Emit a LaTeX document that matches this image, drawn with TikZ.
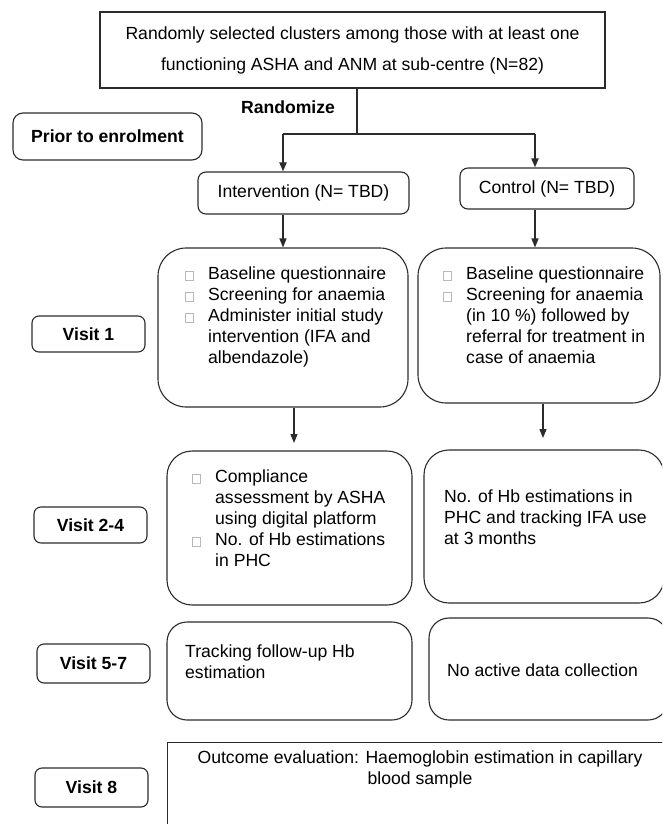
\documentclass[tikz,border=0pt]{standalone}
\usepackage{fontspec}
\setmainfont{Liberation Sans}
\usetikzlibrary{arrows.meta}
\definecolor{ln}{HTML}{2B2B2B}
\definecolor{bulletgray}{HTML}{B8B8B8}
\newcommand{\fsz}{\fontsize{17.6}{21}\selectfont}
\newcommand{\bx}{{\color{bulletgray}\setlength{\fboxsep}{0pt}\setlength{\fboxrule}{0.7pt}\fbox{\rule{0pt}{8pt}\rule{7pt}{0pt}}}}
\newcommand{\itm}{\makebox[23pt][l]{\bx}}
\newcommand{\ind}{\hspace*{23pt}}
\tikzset{
	sqbox/.style={draw=ln, line width=1.1pt, inner sep=0pt},
	rbox/.style={draw=ln, line width=1.1pt, rounded corners=#1, inner sep=0pt},
	rbox/.default=8pt,
	lbl/.style={rbox=7pt, font=\fsz\bfseries},
	txt/.style={align=left, inner sep=0pt, anchor=north west},
	link/.style={draw=ln, line width=1.3pt, -{Triangle[length=9pt,width=7pt]}},
	randline/.style={draw=ln, line width=2pt}
}
\begin{document}
\begin{tikzpicture}[x=1pt, y=-1pt, font=\fsz]
	\useasboundingbox (0,0) rectangle (662,824);
	\clip (0,0) rectangle (662,824);

	\node[sqbox, minimum width=505pt, minimum height=76pt, align=center] (top) at (352.5,50) {Randomly selected clusters among those with at least one\\[10pt] functioning ASHA and ANM at sub-centre (N=82)};
	\node[font=\fsz\bfseries] (rand) at (288,107) {Randomize};
	\node[lbl, minimum width=189pt, minimum height=47pt, rbox=10pt] (prior) at (107.5,136.5) {Prior to enrolment};
	\node[rbox, minimum width=211pt, minimum height=42pt] (int) at (303.5,193) {Intervention (N= TBD)};
	\node[rbox, minimum width=174pt, minimum height=41pt] (ctl) at (547,188.5) {Control (N= TBD)};

	\coordinate (sp) at (357,134);
	\coordinate (sl) at (283,134);
	\coordinate (sr) at (535,134);
	\draw[randline] (top.south -| sp) -- (sp);
	\draw[randline] (sl) -- (sr);
	\draw[randline, -{Triangle[length=9pt,width=7pt]}] (sl) -- (sl |- int.north);
	\draw[randline, -{Triangle[length=9pt,width=7pt]}] (sr) -- (sr |- ctl.north);

	\node[lbl, minimum width=113pt, minimum height=36pt] (v1) at (88.5,334) {Visit 1};
	\node[rbox=28pt, minimum width=250pt, minimum height=159pt] (v1i) at (283,327.5) {};
	\node[rbox=28pt, minimum width=242pt, minimum height=155pt] (v1c) at (539,325.5) {};
	\draw[link] (int.south -| v1i) -- (v1i.north);
	\draw[link] (ctl.south -| sr) -- (sr |- v1c.north);
	\node[txt] (v1it) at (185,267) {\itm Baseline questionnaire\\ \itm Screening for anaemia\\ \itm Administer initial study\\ \ind intervention (IFA and\\ \ind albendazole)};
	\node[txt] (v1ct) at (443,267) {\itm Baseline questionnaire\\ \itm Screening for anaemia\\ \ind (in 10 \%) followed by\\ \ind referral for treatment in\\ \ind case of anaemia};

	\node[lbl, minimum width=113pt, minimum height=36pt] (v2) at (90.5,525) {Visit 2-4};
	\node[rbox=25pt, minimum width=245pt, minimum height=154pt] (v2i) at (289.5,528) {};
	\node[rbox=25pt, minimum width=240pt, minimum height=153pt] (v2c) at (544,526.5) {};
	\coordinate (a2) at (294,443);
	\coordinate (a3) at (543,438);
	\draw[link] (v1i.south -| a2) -- (a2);
	\draw[link] (v1c.south -| a3) -- (a3);
	\node[txt] (v2it) at (192,470) {\itm Compliance\\ \ind assessment by ASHA\\ \ind using digital platform\\ \itm No. of Hb estimations\\ \ind in PHC};
	\node[txt] (v2ct) at (444,490) {No. of Hb estimations in\\ PHC and tracking IFA use\\ at 3 months};

	\node[lbl, minimum width=113pt, minimum height=39pt] (v5) at (93.5,663.5) {Visit 5-7};
	\node[rbox=20pt, minimum width=245pt, minimum height=98pt] (v5i) at (289.5,671) {};
	\node[rbox=20pt, minimum width=239pt, minimum height=102pt] (v5c) at (548.5,669) {};
	\node[txt] (v5it) at (185,645) {Tracking follow-up Hb\\ estimation};
	\node[inner sep=0pt, anchor=west] (v5ct) at (447,670) {No active data collection};

	\node[lbl, minimum width=113pt, minimum height=39pt] (v8) at (91.5,787.5) {Visit 8};
	\node[sqbox, minimum width=506pt, minimum height=110pt, anchor=north west] (outc) at (167,742) {};
	\node[align=center, inner sep=0pt, anchor=north] (outt) at (420,751) {Outcome evaluation: Haemoglobin estimation in capillary\\ blood sample};
\end{tikzpicture}
\end{document}
